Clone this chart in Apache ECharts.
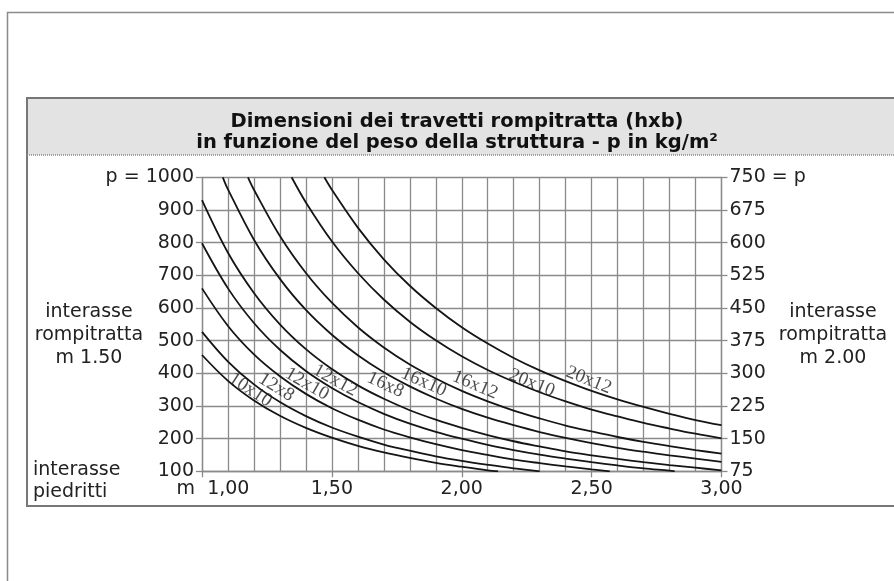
<!DOCTYPE html>
<html>
<head>
<meta charset="utf-8">
<script src="https://cdn.jsdelivr.net/npm/echarts@6/dist/echarts.min.js"></script>
<style>
html,body{margin:0;padding:0;background:#fff;}
#chart{width:894px;height:581px;}
</style>
</head>
<body>
<div id="chart"></div>
<script>
// Curve data: [span m, p kg/m2]
const s10x10 = [[1.0,456],[1.1,377],[1.2,317],[1.3,270],[1.4,233],[1.5,203],[1.6,178],[1.7,158],[1.8,141],[1.9,126],[2.0,114],[2.1,103],[2.14,100]];
const s12x8 = [[1.0,527],[1.1,436],[1.2,366],[1.3,312],[1.4,269],[1.5,234],[1.6,206],[1.7,182],[1.8,163],[1.9,146],[2.0,132],[2.1,120],[2.2,109],[2.3,100]];
const s12x10 = [[1.0,660],[1.1,545],[1.2,458],[1.3,391],[1.4,337],[1.5,293],[1.6,258],[1.7,228],[1.8,204],[1.9,183],[2.0,165],[2.1,150],[2.2,136],[2.3,125],[2.4,115],[2.5,106],[2.57,100]];
const s12x12 = [[1.0,798],[1.1,660],[1.2,554],[1.3,472],[1.4,407],[1.5,355],[1.6,312],[1.7,276],[1.8,246],[1.9,221],[2.0,200],[2.1,181],[2.2,165],[2.3,151],[2.4,139],[2.5,128],[2.6,118],[2.7,109],[2.8,102],[2.82,100]];
const s16x8 = [[1.0,930],[1.1,769],[1.2,646],[1.3,550],[1.4,474],[1.5,413],[1.6,363],[1.7,322],[1.8,287],[1.9,258],[2.0,233],[2.1,211],[2.2,192],[2.3,176],[2.4,161],[2.5,149],[2.6,138],[2.7,128],[2.8,119],[2.9,111],[3.0,103]];
const s16x10 = [[1.08,1000],[1.1,963],[1.2,809],[1.3,689],[1.4,594],[1.5,518],[1.6,455],[1.7,403],[1.8,360],[1.9,323],[2.0,291],[2.1,264],[2.2,241],[2.3,220],[2.4,202],[2.5,186],[2.6,172],[2.7,160],[2.8,149],[2.9,139],[3.0,129]];
const s16x12 = [[1.177,1000],[1.2,962],[1.3,820],[1.4,707],[1.5,616],[1.6,541],[1.7,479],[1.8,427],[1.9,384],[2.0,346],[2.1,314],[2.2,286],[2.3,262],[2.4,240],[2.5,222],[2.6,205],[2.7,190],[2.8,177],[2.9,165],[3.0,154]];
const s20x10 = [[1.345,1000],[1.4,923],[1.5,804],[1.6,707],[1.7,626],[1.8,558],[1.9,501],[2.0,452],[2.1,410],[2.2,374],[2.3,342],[2.4,314],[2.5,289],[2.6,268],[2.7,248],[2.8,231],[2.9,215],[3.0,201]];
const s20x12 = [[1.471,1000],[1.5,962],[1.6,846],[1.7,749],[1.8,668],[1.9,600],[2.0,541],[2.1,491],[2.2,447],[2.3,409],[2.4,376],[2.5,346],[2.6,320],[2.7,297],[2.8,276],[2.9,257],[3.0,241]];

const seriesNames = ['10x10','12x8','12x10','12x12','16x8','16x10','16x12','20x10','20x12'];
const seriesData = [s10x10,s12x8,s12x10,s12x12,s16x8,s16x10,s16x12,s20x10,s20x12];

// curve label anchors (data coords) and angles
const labelX = [1.186,1.286,1.404,1.513,1.706,1.854,2.051,2.27,2.489];
const labelY = [349,357,367,378,365,373,364,370,379];
const labelAngle = [33,32,30,29,25,24,23,22,22];

const titleLines = ['Dimensioni dei travetti rompitratta (hxb)','in funzione del peso della struttura - p in kg/m²'];

const chart = echarts.init(document.getElementById('chart'), null, {renderer:'canvas'});
const gridColor = '#8a8a8a';
const font = 'DejaVu Sans';

const lineSeries = seriesData.map((d,i)=>({
  name: seriesNames[i], type:'line', data:d, xAxisIndex:0, yAxisIndex:0,
  smooth:0.35, symbol:'none', clip:true, silent:true,
  lineStyle:{color:'#151515', width:1.8}, z:5
}));

const labelSeries = {
  type:'scatter', xAxisIndex:0, yAxisIndex:0, symbolSize:0, silent:true, z:6,
  data: seriesNames.map((n,i)=>({name:n, value:[labelX[i],labelY[i]], label:{rotate:-labelAngle[i]}})),
  label:{show:true, position:'inside', formatter:'{b}', fontFamily:'Liberation Serif', fontSize:19, color:'#1e1e1e'}
};

chart.setOption({
  animation:false,
  title:{
    text: titleLines.join('\n'), left:452, top:106, textAlign:'center',
    textStyle:{fontFamily:font, fontWeight:'bold', fontSize:19.5, lineHeight:21, color:'#111'}
  },
  grid:{left:202, right:172.5, top:177.3, bottom:109.7, containLabel:false},
  xAxis:[
    {type:'value', min:1, max:3, interval:0.1, position:'bottom',
     axisLine:{show:true, lineStyle:{color:gridColor, width:1.3}},
     axisTick:{show:false}, axisLabel:{show:false},
     splitLine:{show:true, lineStyle:{color:gridColor, width:1.3}}},
    {type:'value', min:1, max:3, interval:0.5, position:'bottom', offset:0,
     axisLine:{show:false},
     axisTick:{show:true, length:6, lineStyle:{color:gridColor, width:1.3}},
     splitLine:{show:false},
     axisLabel:{show:true, margin:8, fontFamily:font, fontSize:19, color:'#222',
       formatter:function(v){
         if (Math.abs(v-1)<1e-6) return '{f|m  1,00}';
         return v.toFixed(2).replace('.',',');
       },
       rich:{f:{fontFamily:font, fontSize:19, color:'#222', padding:[0,0,0,22]}}}}
  ],
  yAxis:[
    {type:'value', min:100, max:1000, interval:100, position:'left',
     axisLine:{show:true, lineStyle:{color:gridColor, width:1.3}},
     axisTick:{show:true, length:6, lineStyle:{color:gridColor, width:1.3}},
     splitLine:{show:true, lineStyle:{color:gridColor, width:1.3}},
     axisLabel:{margin:8, fontFamily:font, fontSize:19, color:'#222',
       formatter:function(v){ return v===1000 ? 'p = 1000' : String(v); }}},
    {type:'value', min:75, max:750, interval:75, position:'right',
     axisLine:{show:true, lineStyle:{color:gridColor, width:1.3}},
     axisTick:{show:true, length:6, lineStyle:{color:gridColor, width:1.3}},
     splitLine:{show:false},
     axisLabel:{margin:8, fontFamily:font, fontSize:19, color:'#222',
       formatter:function(v){ return v===750 ? '750 = p' : String(v); }}}
  ],
  graphic:[
    {type:'rect', z:-10, silent:true, shape:{x:7.5, y:12.5, width:1000, height:1000}, style:{fill:'none', stroke:'#8a8a8a', lineWidth:1.5}},
    {type:'rect', z:-9, silent:true, shape:{x:27, y:98, width:1000, height:57}, style:{fill:'#e3e3e3'}},
    {type:'rect', z:-8, silent:true, shape:{x:27, y:98, width:1000, height:408}, style:{fill:'none', stroke:'#777', lineWidth:2}},
    {type:'line', z:-8, silent:true, shape:{x1:27, y1:155, x2:894, y2:155}, style:{stroke:'#8a8a8a', lineWidth:1.5, lineDash:[1,1]}},
    {type:'text', silent:true, style:{x:89, y:335, text:'interasse\nrompitratta\nm 1.50', textAlign:'center', textVerticalAlign:'middle', font:'19px "DejaVu Sans"', lineHeight:23, fill:'#222'}},
    {type:'text', silent:true, style:{x:833, y:335, text:'interasse\nrompitratta\nm 2.00', textAlign:'center', textVerticalAlign:'middle', font:'19px "DejaVu Sans"', lineHeight:23, fill:'#222'}},
    {type:'text', silent:true, style:{x:33, y:481, text:'interasse\npiedritti', textAlign:'left', textVerticalAlign:'middle', font:'19px "DejaVu Sans"', lineHeight:22, fill:'#222'}}
  ],
  series: lineSeries.concat([labelSeries])
});
</script>
</body>
</html>
